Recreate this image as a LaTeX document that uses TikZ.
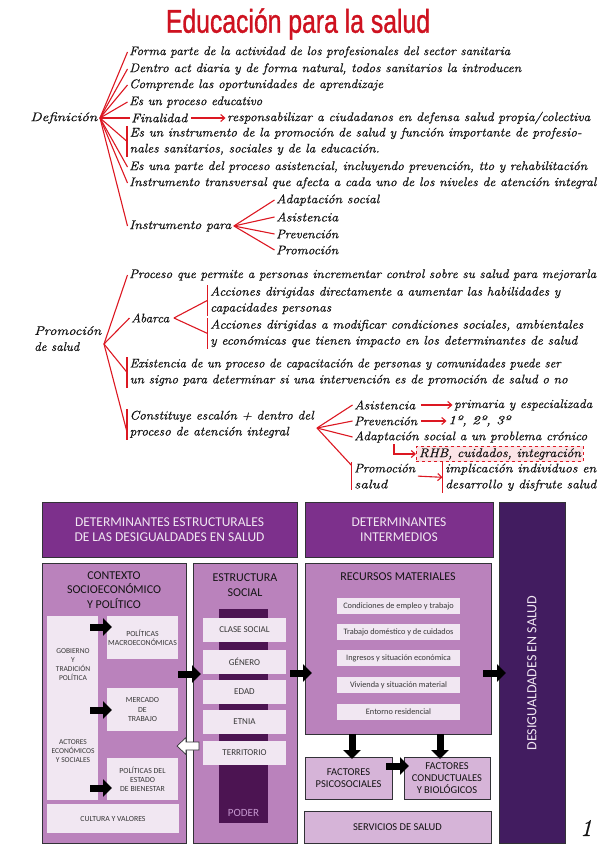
\documentclass[tikz,border=0pt]{standalone}
\usepackage{fontspec}
\newfontfamily\diagfont{Carlito}
\newfontfamily\titlefont{Liberation Sans}[FakeBold=1.2]
\newfontfamily\handfont{Latin Modern Roman}[FakeBold=0.7]
\usetikzlibrary{arrows.meta,calc}
\newcommand\fw[2]{\resizebox{#1pt}{\height}{#2}}
\definecolor{hred}{RGB}{220,24,34}
\definecolor{tred}{RGB}{206,18,32}
\definecolor{ink}{RGB}{20,20,20}
\definecolor{hdr}{RGB}{125,48,140}
\definecolor{panel}{RGB}{186,130,188}
\definecolor{pale}{RGB}{241,231,242}
\definecolor{soft}{RGB}{214,180,216}
\definecolor{darkbar}{RGB}{66,28,96}
\definecolor{power}{RGB}{76,20,82}
\definecolor{powertxt}{RGB}{196,150,206}
\definecolor{pinkbox}{RGB}{251,228,230}
\definecolor{border}{RGB}{50,50,55}
\begin{document}
\begin{tikzpicture}[x=1pt,y=-1pt,
  hw/.style={anchor=west,inner xsep=1.5pt,inner ysep=0pt,text=ink,
     font=\handfont\fontsize{12.5}{16}\selectfont\itshape},
  hwm/.style={hw,anchor=north west,align=left,inner xsep=2.5pt,inner ysep=1.5pt},
  rl/.style={draw=hred,line width=1.1pt},
  ra/.style={rl,-{Straight Barb[length=4pt,width=7pt]}},
  redbar/.style={draw=hred,line width=1.3pt},
  box/.style={draw=border,line width=0.9pt,inner sep=0pt,align=center},
  hdrbox/.style={box,fill=hdr,text=pale,font=\diagfont\fontsize{13.5}{15.5}\selectfont},
  pnl/.style={box,fill=panel},
  ptitle/.style={align=center,inner sep=0pt,text=ink,font=\diagfont\fontsize{12}{14.5}\selectfont},
  inbox/.style={fill=pale,inner sep=0pt,align=center,text=ink!85,font=\diagfont\fontsize{7.8}{9.2}\selectfont},
  esbox/.style={inbox,minimum width=83pt,minimum height=24pt,font=\diagfont\fontsize{9}{10}\selectfont},
  rmbox/.style={inbox,minimum width=123pt,minimum height=16pt,font=\diagfont\fontsize{8.3}{10}\selectfont},
  fbox/.style={box,fill=soft,text=ink,font=\diagfont\fontsize{10.5}{12}\selectfont},
  smalltxt/.style={align=center,inner sep=0pt,text=ink!85,font=\diagfont\fontsize{7.5}{9}\selectfont},
  blk/.style={line width=7pt,-{Triangle[length=9pt,width=17pt]}},
]
\useasboundingbox (0,0) rectangle (599,848);

% ---------- title ----------
\node[text=tred,inner sep=0pt,font=\titlefont\fontsize{33}{33}\selectfont] (title) at (298,24) {\scalebox{0.75}[1]{Educación para la salud}};

% ---------- Definición ----------
\node[hw,anchor=east] (def) at (99,118) {\fw{67}{Definición}};
\coordinate (dh) at (100,118);
\node[hw] (d1) at (127.5,52) {\fw{381}{Forma parte de la actividad de los profesionales del sector sanitaria}};
\node[hw] (d2) at (127.5,69) {\fw{392}{Dentro act diaria y de forma natural, todos sanitarios la introducen}};
\node[hw] (d3) at (127.5,85) {\fw{254}{Comprende las oportunidades de aprendizaje}};
\node[hw] (d4) at (127.5,102) {\fw{133}{Es un proceso educativo}};
\node[hw] (d5) at (129.5,118) {\fw{56}{Finalidad}};
\node[hw] (d5b) at (225.5,118) {\fw{363}{responsabilizar a ciudadanos en defensa salud propia/colectiva}};
\draw[ra] ([xshift=2pt]d5.east) -- (d5b.west);
\node[hwm] (d6) at (127,126) {\fw{452}{Es un instrumento de la promoción de salud y función importante de profesio-}\\\fw{250}{nales sanitarios, sociales y de la educación.}};
\draw[redbar] (d6.north west) -- (d6.south west);
\node[hw] (d7) at (127.5,167) {\fw{458}{Es una parte del proceso asistencial, incluyendo prevención, tto y rehabilitación}};
\node[hw] (d8) at (127.5,183) {\fw{467}{Instrumento transversal que afecta a cada uno de los niveles de atención integral}};
\node[hw] (d9) at (127.5,226) {\fw{102}{Instrumento para}};
\foreach \n in {d1,d2,d3,d4,d5,d6,d7,d8,d9} \draw[rl] (dh) -- (\n.west);
\node[hw] (i1) at (274.5,200) {\fw{103}{Adaptación social}};
\node[hw] (i2) at (274.5,217) {\fw{62}{Asistencia}};
\node[hw] (i3) at (274.5,234) {\fw{62}{Prevención}};
\node[hw] (i4) at (274.5,250) {\fw{62}{Promoción}};
\foreach \n in {i1,i2,i3,i4} \draw[rl] ([xshift=1pt]d9.east) -- (\n.west);

% ---------- Promoción de salud ----------
\node[hw,anchor=north west,align=left] (prom) at (32.5,326) {\fw{67}{Promoción}\\\fw{45}{de salud}};
\coordinate (ph) at (104,344);
\node[hw] (p1) at (127.5,275) {\fw{467}{Proceso que permite a personas incrementar control sobre su salud para mejorarla}};
\node[hw] (ab) at (129.5,318) {\fw{38}{Abarca}};
\node[hwm] (ab1) at (207.5,285) {\fw{350}{Acciones dirigidas directamente a aumentar las habilidades y}\\\fw{121}{capacidades personas}};
\node[hwm] (ab2) at (207.5,318) {\fw{373}{Acciones dirigidas a modificar condiciones sociales, ambientales}\\\fw{367}{y económicas que tienen impacto en los determinantes de salud}};
\draw[redbar] (ab1.north west) -- (ab1.south west);
\draw[redbar] (ab2.north west) -- (ab2.south west);
\draw[rl] ([xshift=3pt]ab.east) -- (ab1.west);
\draw[rl] ([xshift=3pt]ab.east) -- (ab2.west);
\node[hwm] (ex) at (127,357) {\fw{431}{Existencia de un proceso de capacitación de personas y comunidades puede ser}\\\fw{438}{un signo para determinar si una intervención es de promoción de salud o no}};
\draw[redbar] (ex.north west) -- (ex.south west);
\node[hwm] (co) at (127,409) {\fw{184}{Constituye escalón + dentro del}\\\fw{159}{proceso de atención integral}};
\draw[redbar] (co.north west) -- (co.south west);
\draw[rl] (ph) -- (p1.west);
\draw[rl] (ph) -- (ab.west);
\draw[rl] (ph) -- (ex.west);
\draw[rl] (ph) -- ($(co.south west)!0.25!(co.north west)$);

\coordinate (ch) at (317,428);
\node[hw] (c1) at (352.5,405) {\fw{61}{Asistencia}};
\node[hw] (c1b) at (452.5,405) {\fw{138}{primaria y especializada}};
\draw[ra] ([xshift=4pt]c1.east) -- (c1b.west);
\node[hw] (c2) at (352.5,421) {\fw{63}{Prevención}};
\node[hw] (c2b) at (446.5,421) {\fw{62}{1º, 2º, 3º}};
\draw[ra] ([xshift=2pt]c2.east) -- (c2b.west);
\node[hw] (c3) at (352.5,437) {\fw{233}{Adaptación social a un problema crónico}};
\node[draw=hred,dashed,fill=pinkbox,line width=0.9pt,inner xsep=2.5pt,inner ysep=2pt,text=ink,anchor=west,
      font=\handfont\fontsize{12.5}{16}\selectfont\itshape] (rhb) at (416,454) {\fw{162}{RHB, cuidados, integración}};
\coordinate (el) at (394,444);
\draw[ra] (el) |- (rhb.west);
\node[hwm] (c4) at (351.5,462) {\fw{61}{Promoción}\\\fw{33}{salud}};
\draw[redbar] (c4.north west) -- (c4.south west);
\node[hwm] (c5) at (442.5,462) {\fw{151}{implicación individuos en}\\\fw{151}{desarrollo y disfrute salud}};
\draw[redbar] (c5.north west) -- (c5.south west);
\draw[ra] (c4.east) -- (c5.west);
\foreach \n in {c1,c2,c3} \draw[rl] (ch) -- (\n.west);
\draw[rl] (ch) -- ($(c4.north west)!0.12!(c4.south west)$);

% ---------- Diagram ----------
\node[hdrbox,minimum width=255pt,minimum height=55pt] (h1) at (169.5,529.5) {DETERMINANTES ESTRUCTURALES\\DE LAS DESIGUALDADES EN SALUD};
\node[hdrbox,minimum width=188pt,minimum height=55pt] (h2) at (399,529.5) {DETERMINANTES\\INTERMEDIOS};
\node[box,fill=darkbar,minimum width=66pt,minimum height=341pt] (dz) at (532,672.5) {};
\node[rotate=90,text=pale,inner sep=0pt,font=\diagfont\fontsize{14}{14}\selectfont] (dzt) at (532,673) {DESIGUALDADES EN SALUD};

% contexto
\node[pnl,minimum width=144pt,minimum height=280pt] (ctx) at (114,703) {};
\node[ptitle] (ctxt) at (114,590) {CONTEXTO\\SOCIOECONÓMICO\\Y POLÍTICO};
\node[fill=pale,inner sep=0pt,minimum width=51pt,minimum height=184pt] (gcol) at (72.5,708) {};
\node[smalltxt] (gob) at (73,665) {GOBIERNO\\Y\\TRADICIÓN\\POLÍTICA};
\node[smalltxt] (act) at (73,751) {ACTORES\\ECONÓMICOS\\Y SOCIALES};
\node[inbox,minimum width=71pt,minimum height=43pt] (pm) at (142.5,637.5) {POLÍTICAS\\MACROECONÓMICAS};
\node[inbox,minimum width=71pt,minimum height=43pt] (mt) at (142.5,709.5) {MERCADO\\DE\\TRABAJO};
\node[inbox,minimum width=71pt,minimum height=42pt] (pe) at (142.5,779) {POLÍTICAS DEL\\ESTADO\\DE BIENESTAR};
\node[inbox,minimum width=132pt,minimum height=29pt] (cv) at (113,818.5) {CULTURA Y VALORES};

% estructura social
\node[pnl,minimum width=104pt,minimum height=280pt] (es) at (245,703) {};
\node[ptitle] (est) at (245,585) {ESTRUCTURA\\SOCIAL};
\node[fill=power,inner sep=0pt,minimum width=49pt,minimum height=214pt] (pw) at (243.5,716) {};
\node[text=powertxt,inner sep=0pt,font=\diagfont\fontsize{11}{11}\selectfont] (pwt) at (243.5,813) {PODER};
\node[esbox] (cs) at (244.5,630) {CLASE SOCIAL};
\node[esbox] (ge) at (244.5,662) {GÉNERO};
\node[esbox] (ed) at (244.5,692) {EDAD};
\node[esbox] (et) at (244.5,722) {ETNIA};
\node[esbox] (te) at (244.5,753) {TERRITORIO};

% recursos materiales
\node[pnl,minimum width=186pt,minimum height=171pt] (rm) at (398,648.5) {};
\node[ptitle] (rmt) at (398,577) {RECURSOS MATERIALES};
\node[rmbox] (r1) at (398.5,606) {Condiciones de empleo y trabajo};
\node[rmbox] (r2) at (398.5,632) {Trabajo doméstico y de cuidados};
\node[rmbox] (r3) at (398.5,658) {Ingresos y situación económica};
\node[rmbox] (r4) at (398.5,685) {Vivienda y situación material};
\node[rmbox] (r5) at (398.5,712) {Entorno residencial};

\node[fbox,minimum width=87pt,minimum height=42pt] (fp) at (348.5,778) {FACTORES\\PSICOSOCIALES};
\node[fbox,minimum width=86pt,minimum height=42pt] (fc) at (447,778) {FACTORES\\CONDUCTUALES\\Y BIOLÓGICOS};
\node[fbox,minimum width=187pt,minimum height=32pt] (ss) at (397.5,827) {SERVICIOS DE SALUD};

% block arrows
\coordinate (a1s) at (90,627);  \coordinate (a1e) at (112,627);
\coordinate (a2s) at (90,710);  \coordinate (a2e) at (112,710);
\coordinate (a3s) at (90,788);  \coordinate (a3e) at (112,788);
\coordinate (a4s) at (178,674); \coordinate (a4e) at (201,674);
\coordinate (a5s) at (290,673); \coordinate (a5e) at (312,673);
\coordinate (a6s) at (483,673); \coordinate (a6e) at (506,673);
\coordinate (a7s) at (352,734); \coordinate (a7e) at (352,759);
\coordinate (a8s) at (440,734); \coordinate (a8e) at (440,759);
\coordinate (a9s) at (386,766); \coordinate (a9e) at (409,766);
\foreach \i in {1,...,9} \draw[blk] (a\i s) -- (a\i e);
\draw[border,fill=white,line width=0.7pt] (177,746) -- (186,737.5) -- (186,742) -- (199,742) -- (199,750) -- (186,750) -- (186,754.5) -- cycle;

\node[text=ink,inner sep=0pt,font=\handfont\fontsize{24}{24}\selectfont\itshape] (pg) at (586,828) {1};
\end{tikzpicture}
\end{document}
